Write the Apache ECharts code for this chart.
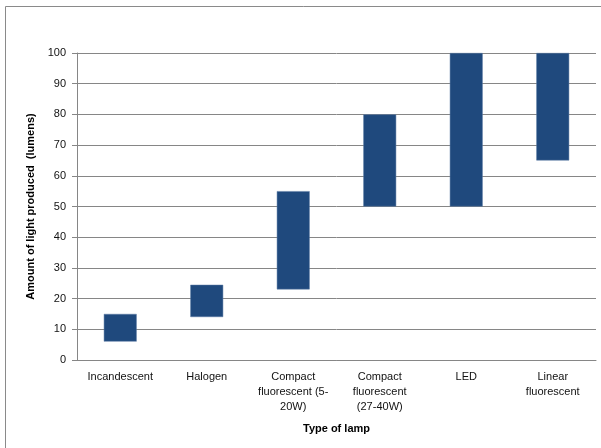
<!DOCTYPE html>
<html>
<head>
<meta charset="utf-8">
<script src="https://cdn.jsdelivr.net/npm/echarts@6/dist/echarts.min.js"></script>
<style>
html, body { margin: 0; padding: 0; background: #fff; }
#chart { width: 601px; height: 448px; }
</style>
</head>
<body>
<div id="chart"></div>
<script>
// lamp types and the range of light each one gives (lumens)
var lampTypes = ['Incandescent', 'Halogen', 'Compact\nfluorescent (5-\n20W)', 'Compact\nfluorescent\n(27-40W)', 'LED', 'Linear\nfluorescent'];
var lowValues = [6, 14, 23, 50, 50, 65];
var highValues = [15, 24.5, 55, 80, 100, 100];
var yTicks = [0, 10, 20, 30, 40, 50, 60, 70, 80, 90, 100];

var spans = [];
for (var i = 0; i < lowValues.length; i++) {
    spans.push(highValues[i] - lowValues[i]);
}

var myChart = echarts.init(document.getElementById('chart'));

var option = {
    animation: false,
    textStyle: {
        fontFamily: 'Liberation Sans, Arial, sans-serif'
    },
    graphic: [
        {
            type: 'rect',
            shape: { x: 5.5, y: 6.5, width: 620, height: 460 },
            style: { fill: 'none', stroke: '#8a8a8a', lineWidth: 1 },
            silent: true
        }
    ],
    grid: {
        left: 77,
        right: 5,
        top: 53,
        bottom: 88
    },
    xAxis: {
        type: 'category',
        data: lampTypes,
        name: 'Type of lamp',
        nameLocation: 'middle',
        nameGap: 63,
        nameTextStyle: {
            fontSize: 11,
            fontWeight: 'bold',
            color: '#000'
        },
        axisLine: { lineStyle: { color: '#868686', width: 1 } },
        axisTick: { alignWithLabel: false, length: 5, lineStyle: { color: '#868686' } },
        axisLabel: {
            interval: 0,
            margin: 9,
            fontSize: 11,
            lineHeight: 15,
            color: '#111'
        }
    },
    yAxis: {
        type: 'value',
        min: 0,
        max: yTicks[yTicks.length - 1],
        interval: 10,
        name: 'Amount of light produced  (lumens)',
        nameLocation: 'middle',
        nameGap: 41,
        nameTextStyle: {
            fontSize: 11,
            fontWeight: 'bold',
            color: '#000'
        },
        axisLine: { show: true, lineStyle: { color: '#868686', width: 1 } },
        axisTick: { show: true, length: 5, lineStyle: { color: '#868686' } },
        splitLine: { lineStyle: { color: '#868686', width: 1 } },
        axisLabel: {
            margin: 11,
            fontSize: 11,
            color: '#111'
        }
    },
    series: [
        {
            name: 'base',
            type: 'bar',
            stack: 'range',
            data: lowValues,
            barWidth: '38%',
            itemStyle: { color: 'rgba(0,0,0,0)' },
            silent: true
        },
        {
            name: 'range',
            type: 'bar',
            stack: 'range',
            data: spans,
            barWidth: '38%',
            itemStyle: {
                color: '#1f497d',
                borderColor: '#5a7aa5',
                borderWidth: 0.5
            }
        }
    ]
};

myChart.setOption(option);
</script>
</body>
</html>
